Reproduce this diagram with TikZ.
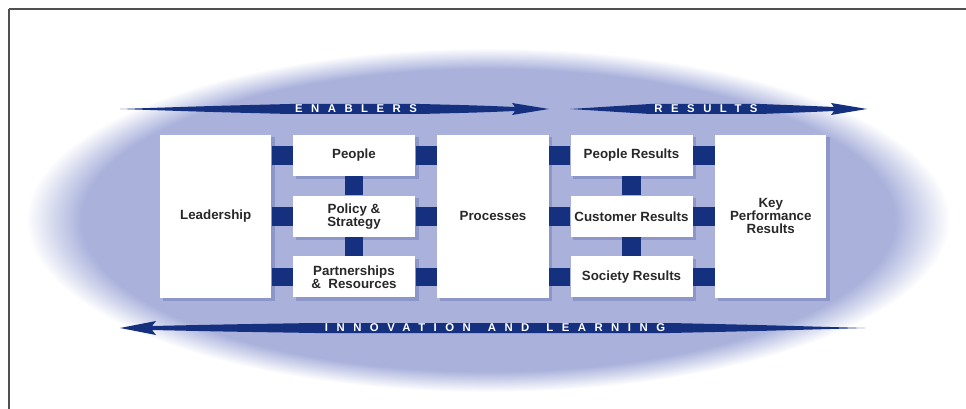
\documentclass[tikz,border=0pt]{standalone}
\usepackage{fontspec}
\setmainfont{Liberation Sans}
\newfontfamily\bannerfont[LetterSpace=75]{Liberation Sans}
\usetikzlibrary{backgrounds}

\definecolor{halo}{RGB}{170,178,220}
\definecolor{navy}{RGB}{22,48,128}
\definecolor{boxshade}{RGB}{140,150,200}
\definecolor{framegray}{RGB}{80,80,80}
\definecolor{inkgray}{RGB}{40,40,40}

\pgfdeclareradialshading{haloshade}{\pgfpointorigin}{color(0bp)=(halo); color(22bp)=(halo); color(25bp)=(white); color(50bp)=(white)}

\tikzset{every picture/.style={line width=0.75pt},
	box/.style={fill=white, inner sep=0pt, align=center, text=inkgray, font=\fontsize{10}{9.75}\selectfont\bfseries},
	tallbox/.style={box, minimum width=83.5pt, minimum height=122pt},
	smallbox/.style={box, minimum width=91.5pt, minimum height=30.75pt},
	bar/.style={draw=navy, line width=14pt},
	banner/.style={text=white, inner sep=0pt, font=\bannerfont\fontsize{8.5}{9}\selectfont\bfseries}
}

\begin{document}
\begin{tikzpicture}[x=0.75pt,y=0.75pt,yscale=-1]
	\useasboundingbox (0,0) rectangle (966,409);

	%Shape: Frame
	\draw [framegray, line width=1.5pt] (9,9) -- (966,9) ;
	\draw [framegray, line width=0.9pt] (9,9) -- (9,409) ;

	% Boxes
	\node [tallbox] (lead) at (215.75,216.25) {Leadership};
	\node [smallbox] (peop) at (354,155.5) {People};
	\node [smallbox] (pol) at (354,216.25) {Policy \&\\Strategy};
	\node [smallbox] (part) at (354,277) {Partnerships\\\&\ \ Resources};
	\node [tallbox] (proc) at (493,216.25) {Processes};
	\node [smallbox] (pres) at (631.5,155.5) {People Results};
	\node [smallbox] (cres) at (631.5,216.25) {Customer Results};
	\node [smallbox] (sres) at (631.5,277) {Society Results};
	\node [tallbox] (kpr) at (770.75,216.25) {Key\\Performance\\Results};

	\begin{scope}[on background layer]
		%Shape: Ellipse
		\shade [shading=haloshade] (488,220) ellipse [x radius=462, y radius=172] ;
		%Shape: Box shadows
		\foreach \n in {lead,peop,pol,part,proc,pres,cres,sres,kpr}
			\fill [boxshade] ([shift={(3,3)}]\n.north west) rectangle ([shift={(3,3)}]\n.south east) ;
	\end{scope}

	%Straight Lines: enablers
	\foreach \n in {peop,pol,part} {
		\draw [bar] (\n.west) -- (\n.west -| lead.east) ;
		\draw [bar] (\n.east) -- (\n.east -| proc.west) ;
	}
	\draw [bar] (peop.south) -- (pol.north) ;
	\draw [bar] (pol.south) -- (part.north) ;
	%Straight Lines: results
	\foreach \n in {pres,cres,sres} {
		\draw [bar] (\n.west) -- (\n.west -| proc.east) ;
		\draw [bar] (\n.east) -- (\n.east -| kpr.west) ;
	}
	\draw [bar] (pres.south) -- (cres.north) ;
	\draw [bar] (cres.south) -- (sres.north) ;

	%Shape: Arrow enablers
	\fill [navy] (120,109) .. controls (210,106) .. (290,104) -- (420,104) .. controls (480,105.5) .. (515,107) -- (512,103) -- (549,109) -- (512,115) -- (515,111) .. controls (480,112.5) .. (420,114) -- (290,114) .. controls (210,112) .. (120,109) -- cycle ;
	%Shape: Arrow results
	\fill [navy] (570,109) .. controls (610,106) .. (650,104) -- (760,104) .. controls (800,105.5) .. (834,107) -- (831,103) -- (867,109) -- (831,115) -- (834,111) .. controls (800,112.5) .. (760,114) -- (650,114) .. controls (610,112) .. (570,109) -- cycle ;
	%Shape: Arrow innovation
	\fill [navy] (865,328) .. controls (760,325) .. (670,323) -- (315,323) .. controls (220,324.5) .. (152,326) -- (156,321) -- (120,328) -- (156,335) -- (152,330) .. controls (220,331.5) .. (315,333) -- (670,333) .. controls (760,331) .. (865,328) -- cycle ;

	% Text Node
	\node [banner] (enab) at (356,109) {ENABLERS};
	% Text Node
	\node [banner] (resu) at (706,109) {RESULTS};
	% Text Node
	\node [banner] (innov) at (495,328) {INNOVATION\hspace{4pt} AND\hspace{4pt} LEARNING};
\end{tikzpicture}
\end{document}
